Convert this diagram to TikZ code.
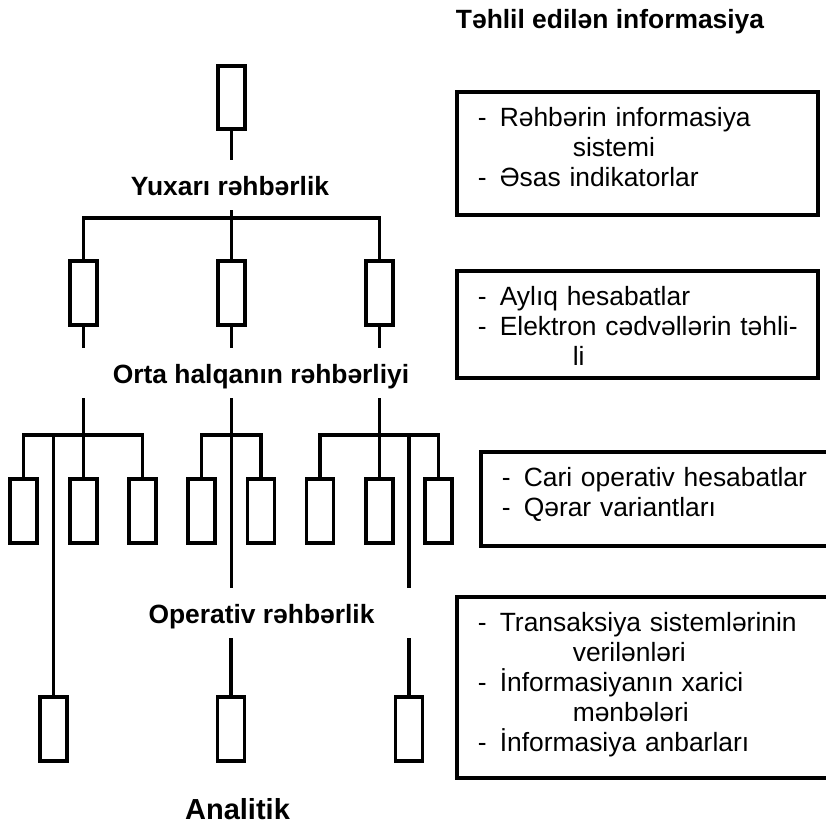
\documentclass[tikz,border=0pt]{standalone}
\usepackage{fontspec}
\setmainfont{Liberation Sans}
\usepackage{tikz}
\usetikzlibrary{positioning}
\newcommand{\itemline}[1]{\mbox{\makebox[22pt][l]{-}#1}}
\newcommand{\wrapind}{\hspace*{95pt}}

\begin{document}
\begin{tikzpicture}[x=1pt, y=-1pt, line width=3.6pt, cell/.style={draw, minimum width=27pt, minimum height=63.5pt, inner sep=0pt}, lbl/.style={font=\bfseries\fontsize{26.4pt}{30pt}\selectfont, anchor=base, inner sep=0pt}, info/.style={draw, anchor=north west, align=left, inner xsep=21pt, inner ysep=0pt, text height=35pt, font=\fontsize{26.4pt}{30pt}\selectfont}]
\clip (0,0) rectangle (826,825);
\node[lbl] (title) at (610,28) {Təhlil edilən informasiya};
% levels of the tree
\node[cell] (top) at (231.5,97.5) {};
\coordinate (top-end) at (231.5,160);
\node[lbl] (upper) at (230,195) {Yuxarı rəhbərlik};
\coordinate (upper-out) at (231.5,210);
\coordinate (bus1) at (231.5,218);
\foreach \x [count=\i] in {83.5,231.5,379.5} {
  \node[cell] (mid\i) at (\x,293) {};
  \coordinate (mid\i-end) at (\x,348);
  \coordinate (mid\i-out) at (\x,398);
  \coordinate (bus2\i) at (\x,435);
}
\node[lbl] (middle) at (261,383) {Orta halqanın rəhbərliyi};
\foreach \x [count=\i] in {23.5,83.5,142.5,201.5,261,320,379.5,438.5}
  \node[cell] (low\i) at (\x,511) {};
\coordinate (tap1) at (53.5,435);
\coordinate (tap3) at (409,435);
\coordinate (tap2-end) at (231.5,588);
\coordinate (tap3-end) at (409,588);
\node[lbl] (oper) at (261.5,623) {Operativ rəhbərlik};
\coordinate (oper2) at (231,638);
\coordinate (oper3) at (409,638);
\foreach \x [count=\i] in {53.5,231,409}
  \node[cell] (ana\i) at (\x,729) {};
\node[lbl, font=\bfseries\fontsize{29pt}{34pt}\selectfont] (analitik) at (237.5,819) {Analitik};
% connectors
\draw (top) -- (top-end);
\draw (upper-out) -- (mid2);
\draw (mid1) |- (bus1) -| (mid3);
\foreach \i in {1,2,3} \draw (mid\i) -- (mid\i-end);
\draw (mid1-out) -- (low2);
\draw (low1) |- (bus21) -| (low3);
\draw (tap1) -- (ana1);
\draw (mid2-out) -- (tap2-end);
\draw (low4) |- (bus22) -| (low5);
\draw (mid3-out) -- (low7);
\draw (low6) |- (bus23) -| (low8);
\draw (tap3) -- (tap3-end);
\draw (oper2) -- (ana2);
\draw (oper3) -- (ana3);
% information boxes
\node[info, text width=319pt, text depth=88pt] (info1) at (455,90) {\itemline{Rəhbərin informasiya}\\\wrapind sistemi\\\itemline{Əsas indikatorlar}};
\node[info, text width=319pt, text depth=72pt] (info2) at (455,269) {\itemline{Aylıq hesabatlar}\\\itemline{Elektron cədvəllərin təhli-}\\\wrapind li};
\node[info, text width=329pt, text depth=59pt] (info3) at (479,450) {\itemline{Cari operativ hesabatlar}\\\itemline{Qərar variantları}};
\node[info, text width=353pt, text depth=146pt] (info4) at (455,595) {\itemline{Transaksiya sistemlərinin}\\\wrapind verilənləri\\\itemline{İnformasiyanın xarici}\\\wrapind mənbələri\\\itemline{İnformasiya anbarları}};
\end{tikzpicture}
\end{document}
